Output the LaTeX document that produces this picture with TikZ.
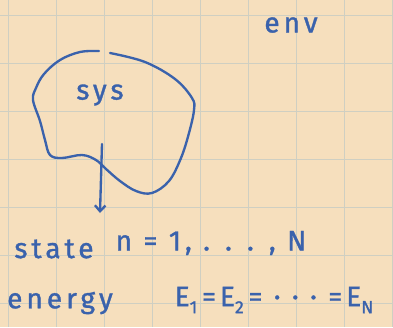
\documentclass[tikz,border=0pt]{standalone}
\usepackage{fontspec}
\usepackage{tikz}
\usetikzlibrary{arrows.meta,positioning}
\newfontfamily\handfont[LetterSpace=14,FakeBold=1.2]{Fira Sans}
\newcommand{\lowidx}[1]{\raisebox{-6pt}{\fontsize{15}{15}\selectfont #1}}
\definecolor{paper}{HTML}{F6DFBD}
\definecolor{gridline}{HTML}{CFCFC2}
\definecolor{ink}{HTML}{3A62AC}
\tikzset{
  gridrule/.style={gridline, line width=0.7pt},
  inkline/.style={ink, line width=2pt, line cap=round, line join=round},
  inkarrow/.style={inkline, -{Straight Barb[length=5pt,width=9pt]}},
  hand/.style={ink, font=\handfont\fontsize{24}{26}\selectfont, inner sep=0pt}
}
\begin{document}
\begin{tikzpicture}[x=0.03cm, y=-0.03cm]
  % paper and grid
  \fill[paper] (0,0) rectangle (393,327);
  \useasboundingbox (0,0) rectangle (393,327);
  \foreach \gx in {8,56,104,152,200,248,296,344,392}{
    \draw[gridrule] (\gx,0) -- (\gx,327);
  }
  \foreach \gy in {15,63,111,159,207,255,303}{
    \draw[gridrule] (0,\gy) -- (393,\gy);
  }
  % the system boundary
  \draw[inkline] plot[smooth, tension=0.6] coordinates {(110,53) (145,62) (175,79) (192,98) (194,110) (189,133) (181,158) (169,181) (152,193) (136,191) (120,181) (106,169) (96,160) (82,155) (62,158) (50,155) (45,140) (40,121) (33,100) (36,88) (44,74) (60,60) (80,52) (99,51)};
  \node[hand] (env) at (291,25) {env};
  \node[hand] (sys) at (100,95) {sys};
  \coordinate (tail) at (102,144);
  \coordinate (head) at (100,213);
  \draw[inkarrow] (tail) -- (head);
  % labels below
  \node[hand] (state) at (54,249) {state};
  \node[hand] (states) at (211,243) {n = 1, . . . , N};
  \node[hand] (energy) at (60,303) {energy};
  \node[hand] (energies) at (274,300) {E\lowidx{1}\,=E\lowidx{2}\,= · · · =E\lowidx{N}};
\end{tikzpicture}
\end{document}
